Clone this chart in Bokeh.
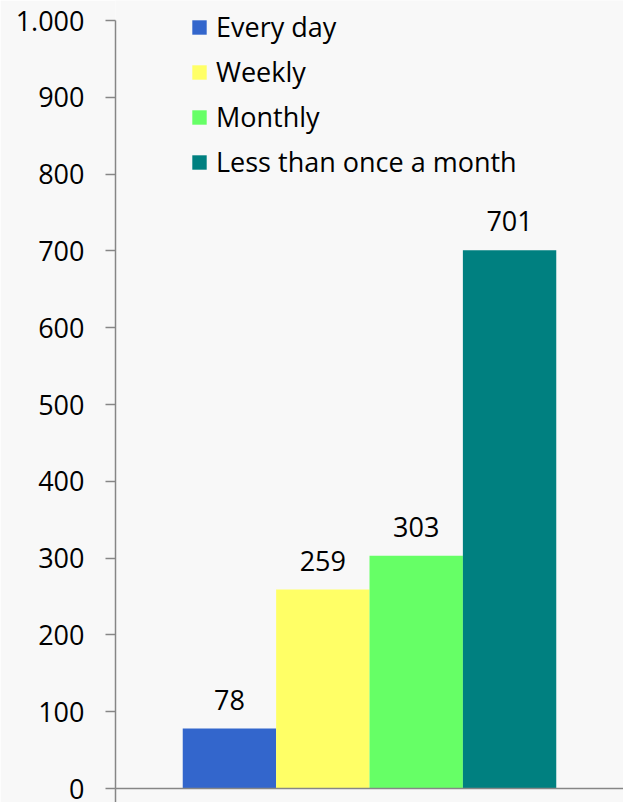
from bokeh.plotting import figure
from bokeh.models import (ColumnDataSource, Range1d, FixedTicker, LabelSet)
from bokeh.core.properties import value
from bokeh.embed import file_html
from bokeh.resources import INLINE

categories = ["Every day", "Weekly", "Monthly", "Less than once a month"]
values = [78, 259, 303, 701]
colors = ["#3366CC", "#FFFF66", "#66FF66", "#008080"]
y_ticks = [0, 100, 200, 300, 400, 500, 600, 700, 800, 900, 1000]
y_tick_labels = ["0", "100", "200", "300", "400", "500", "600", "700", "800", "900", "1.000"]

FONT = "Open Sans"
FS = "27px"
BG = "#f8f8f8"
AXIS = "#868686"

pos = list(range(len(categories)))
source = ColumnDataSource(dict(x=pos, cat=categories, val=values, color=colors,
                               lbl=[str(v) for v in values]))

pad = 0.72
x0 = -0.5 - pad
x1 = len(categories) - 0.5 + pad

FRAME_H = 788
AXIS_TOP = y_ticks[-1]
y_end = AXIS_TOP * FRAME_H / 768.0   # leave 20px headroom above the top tick

p = figure(x_range=Range1d(x0, x1), y_range=Range1d(0, y_end),
           frame_width=508, frame_height=FRAME_H,
           min_border_left=115, min_border_right=0, min_border_top=0, min_border_bottom=14,
           output_backend="svg", toolbar_location=None,
           background_fill_color=BG, border_fill_color=BG, outline_line_color=None)

p.vbar(x="x", top="val", width=1.0, source=source, fill_color="color",
       line_color=None, legend_field="cat")

p.xgrid.visible = False
p.ygrid.visible = False

# y axis
ya = p.yaxis[0]
ya.bounds = (0, AXIS_TOP)
ya.ticker = FixedTicker(ticks=y_ticks)
ya.major_label_overrides = {t: l for t, l in zip(y_ticks, y_tick_labels)}
ya.axis_line_color = AXIS
ya.axis_line_width = 1.5
ya.major_tick_line_color = AXIS
ya.major_tick_line_width = 1.5
ya.major_tick_in = 0
ya.major_tick_out = 10
ya.minor_tick_line_color = None
ya.major_label_standoff = 21
ya.major_label_text_font = FONT
ya.major_label_text_font_size = FS
ya.major_label_text_color = "black"

# bottom axis: line with boundary tick only
xa = p.xaxis[0]
xa.ticker = FixedTicker(ticks=[x0])
xa.axis_line_color = AXIS
xa.axis_line_width = 1.5
xa.major_tick_line_color = AXIS
xa.major_tick_line_width = 1.5
xa.major_tick_in = 0
xa.major_tick_out = 14
xa.minor_tick_line_color = None
xa.major_label_overrides = {x0: ""}
xa.major_label_text_font_size = "1px"
xa.major_label_standoff = 0

labels = LabelSet(x="x", y="val", text="lbl", source=source,
                  text_align="center", text_baseline="alphabetic", y_offset=19,
                  text_font=value(FONT), text_font_size=value(FS), text_color="black")
p.add_layout(labels)

lg = p.legend[0]
lg.location = (75, 608)
lg.label_text_font = FONT
lg.label_text_font_size = FS
lg.label_text_color = "black"
lg.glyph_width = 18
lg.glyph_height = 18
lg.label_standoff = 8
lg.label_height = 27
lg.spacing = 8
lg.padding = 0
lg.margin = 0
lg.border_line_color = None
lg.background_fill_alpha = 0

open("out.html", "w").write(file_html(p, INLINE))
